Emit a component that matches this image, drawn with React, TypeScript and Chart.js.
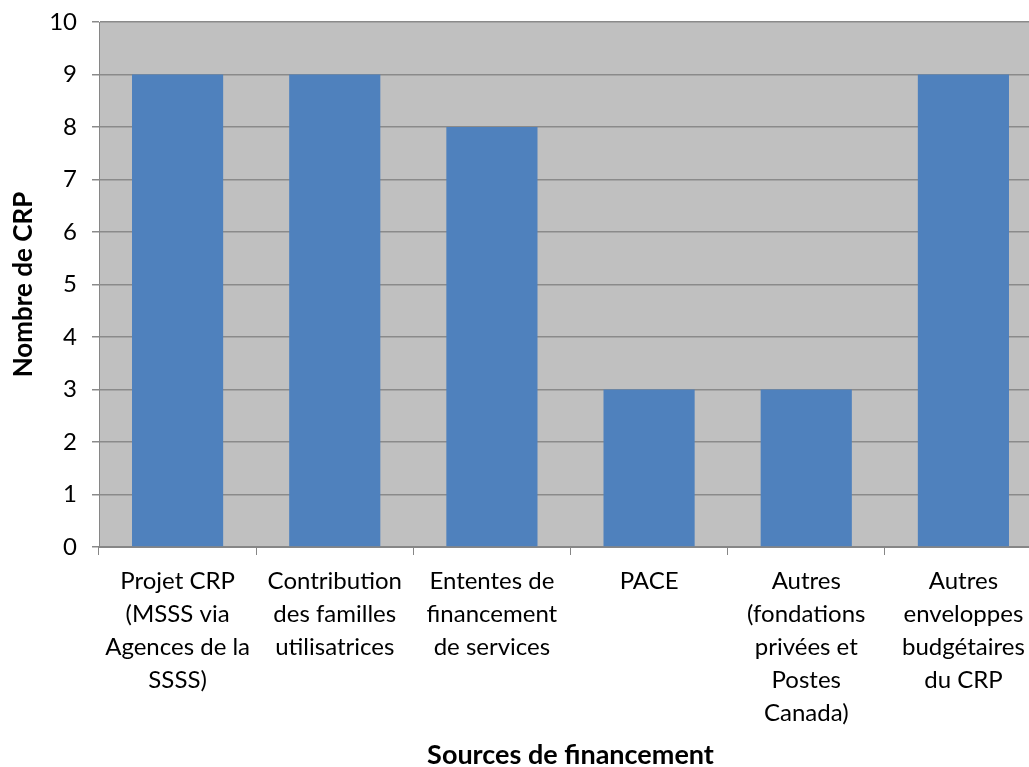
import React, { useEffect, useRef } from "react";
import { Chart, registerables } from "chart.js";

Chart.register(...registerables);

const categories: string[][] = [
  ["Projet CRP", "(MSSS via", "Agences de la", "SSSS)"],
  ["Contribution", "des familles", "utilisatrices"],
  ["Ententes de", "financement", "de services"],
  ["PACE"],
  ["Autres", "(fondations", "privées et", "Postes", "Canada)"],
  ["Autres", "enveloppes", "budgétaires", "du CRP"],
];
const values: number[] = [9, 9, 8, 3, 3, 9];
const yTicks: number[] = [0, 1, 2, 3, 4, 5, 6, 7, 8, 9, 10];
const xTitle = "Sources de financement";
const yTitle = "Nombre de CRP";

const FONT = "Lato, 'Open Sans', sans-serif";

const bgPlugin = {
  id: "plotBg",
  beforeDraw(chart: any) {
    const { ctx, chartArea } = chart;
    if (!chartArea) return;
    ctx.save();
    ctx.fillStyle = "#C0C0C0";
    ctx.fillRect(chartArea.left, chartArea.top, chartArea.right - chartArea.left, chartArea.bottom - chartArea.top);
    ctx.restore();
  },
};

export default function App() {
  const ref = useRef<HTMLCanvasElement | null>(null);
  useEffect(() => {
    if (!ref.current) return;
    const chart = new Chart(ref.current, {
      type: "bar",
      data: {
        labels: categories,
        datasets: [
          {
            data: values,
            backgroundColor: "#4F81BD",
            borderWidth: 0,
            categoryPercentage: 1,
            barPercentage: 0.58,
          },
        ],
      },
      options: {
        responsive: false,
        animation: false,
        layout: { padding: { top: 22, left: 0, right: 0, bottom: 0 } },
        plugins: {
          legend: { display: false },
          tooltip: { enabled: false },
        },
        scales: {
          x: {
            offset: true,
            grid: {
              offset: true,
              drawOnChartArea: false,
              tickLength: 8,
              color: "#868686",
              lineWidth: 1,
            },
            border: { display: true, color: "#868686", width: 2 },
            ticks: {
              color: "#000",
              font: { family: FONT, size: 24, lineHeight: 1.375 },
              padding: 10,
              maxRotation: 0,
              autoSkip: false,
            },
            title: {
              display: true,
              text: xTitle,
              color: "#000",
              font: { family: FONT, size: 27, weight: "bold", lineHeight: 0.9 },
              padding: { top: 0, bottom: 0 },
            },
            afterFit(scale: any) {
              scale.height = 220;
              scale.paddingLeft = 0;
              scale.paddingRight = 0;
            },
          },
          y: {
            min: 0,
            max: 10,
            afterBuildTicks(scale: any) {
              scale.ticks = yTicks.map((v) => ({ value: v }));
            },
            ticks: {
              color: "#000",
              font: { family: FONT, size: 24 },
              padding: 15,
            },
            grid: {
              color: "#8A8A8A",
              lineWidth: 1.5,
              tickLength: 7,
            },
            border: { display: true, color: "#868686", width: 1 },
            title: {
              display: true,
              text: yTitle,
              color: "#000",
              font: { family: FONT, size: 26, weight: "bold", lineHeight: 1.2 },
              padding: { top: 8, bottom: 0 },
            },
            afterFit(scale: any) {
              scale.width = 99;
              scale.paddingTop = 0;
              scale.paddingBottom = 0;
            },
          },
        },
      },
      plugins: [bgPlugin],
    });
    return () => chart.destroy();
  }, []);
  return (
    <div style={{ position: "fixed", left: 0, top: 0, width: 1029, height: 767, overflow: "hidden", background: "#fff" }}>
      <canvas ref={ref} width={1042} height={767} style={{ display: "block" }} />
    </div>
  );
}
